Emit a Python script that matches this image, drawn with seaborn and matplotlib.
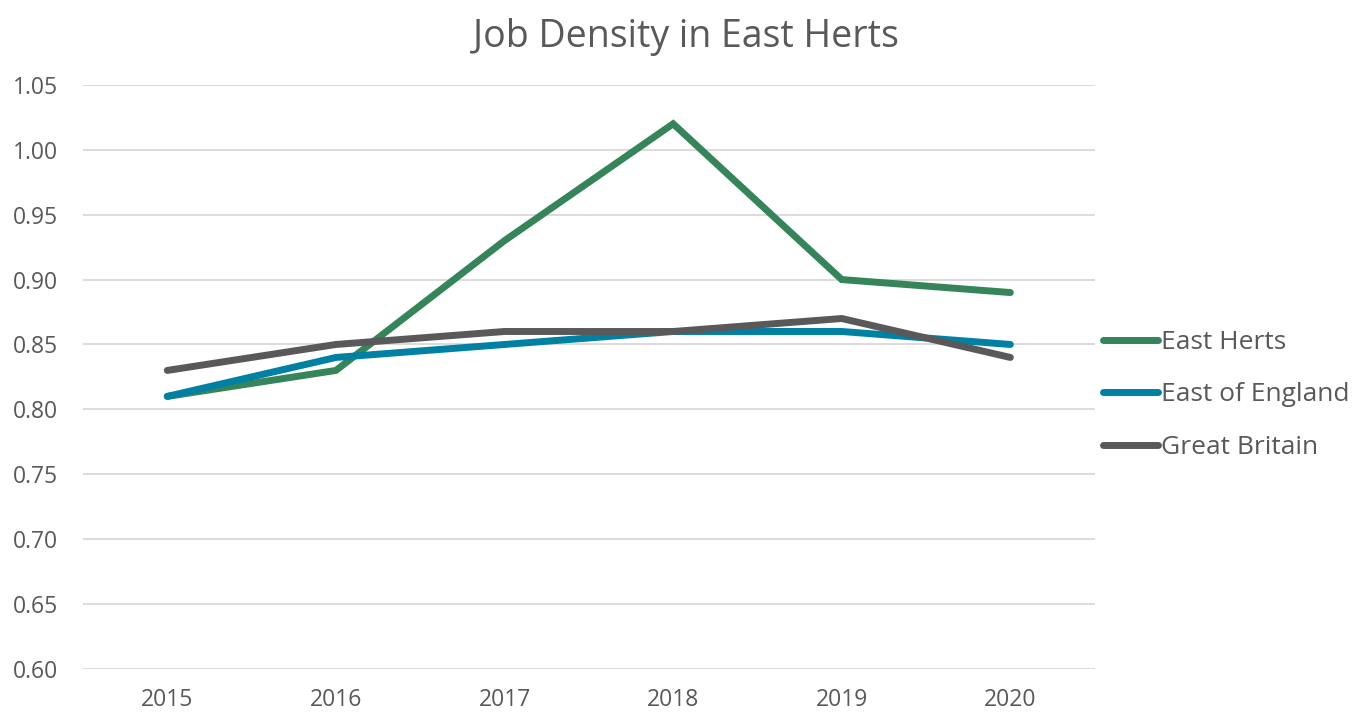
import pandas as pd
import matplotlib
matplotlib.use("Agg")
import matplotlib.pyplot as plt
import seaborn as sns

years = ["2015", "2016", "2017", "2018", "2019", "2020"]
east_herts = [0.81, 0.83, 0.93, 1.02, 0.90, 0.89]
east_of_england = [0.81, 0.84, 0.85, 0.86, 0.86, 0.85]
great_britain = [0.83, 0.85, 0.86, 0.86, 0.87, 0.84]
y_ticks = [0.60, 0.65, 0.70, 0.75, 0.80, 0.85, 0.90, 0.95, 1.00, 1.05]

series = {"East Herts": east_herts,
          "East of England": east_of_england,
          "Great Britain": great_britain}
colours = {"East Herts": "#35845A",
           "East of England": "#0080A3",
           "Great Britain": "#595959"}

rows = []
for name, values in series.items():
    for i, v in enumerate(values):
        rows.append({"x": i, "year": years[i], "value": v, "series": name})
df = pd.DataFrame(rows)

sns.set_style("white")
plt.rcParams["font.family"] = ["Open Sans", "DejaVu Sans"]

text_col = "#595959"
lw = 5.0
fig = plt.figure(figsize=(13.58, 7.13), dpi=100)
ax = fig.add_axes([0.0611, 0.0617, 0.745, 0.8193])

sns.lineplot(data=df, x="x", y="value", hue="series", palette=colours,
             linewidth=lw, ax=ax, legend=False,
             solid_capstyle="round", solid_joinstyle="miter")

ax.set_xlim(-0.5, 5.5)
ax.set_ylim(0.60, 1.05)
ax.set_yticks(y_ticks)
ax.set_yticklabels([f"{t:.2f}" for t in y_ticks])
ax.set_xticks(range(len(years)))
ax.set_xticklabels(years)
ax.yaxis.grid(True, color="#d9d9d9", linewidth=1.3)
ax.set_axisbelow(True)
for s in ax.spines.values():
    s.set_visible(False)
ax.tick_params(axis="both", length=0, labelsize=16.5, labelcolor=text_col)
ax.tick_params(axis="y", pad=18)
ax.tick_params(axis="x", pad=14)
ax.set_xlabel("")
ax.set_ylabel("")

fig.suptitle("Job Density in East Herts", x=0.505, y=0.975, fontsize=27,
             color=text_col)

handles = [plt.Line2D([0], [0], color=colours[n], linewidth=lw,
                      solid_capstyle="round") for n in series]
fig.legend(handles, list(series.keys()), loc="center left",
           bbox_to_anchor=(1103 / 1358, 1 - 395 / 713), frameon=False,
           borderpad=0, borderaxespad=0,
           fontsize=19, labelcolor=text_col, handlelength=2.1,
           handletextpad=0.1, labelspacing=1.05)

fig.savefig("out.png", dpi=100)
